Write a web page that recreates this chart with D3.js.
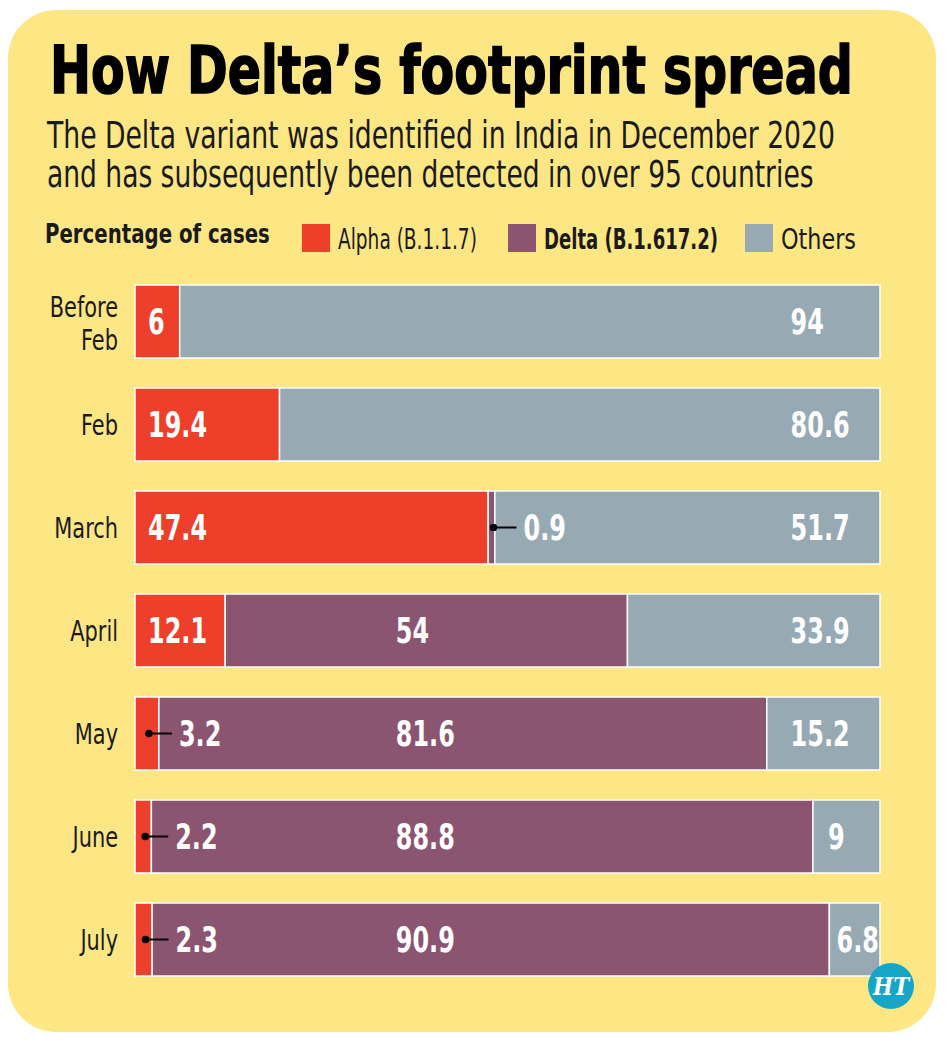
<!DOCTYPE html>
<html>

<head>
    <meta charset="utf-8">
    <style>
        body {
            margin: 0;
            background: #fff;
        }

        svg {
            display: block;
        }

        text {
            font-family: 'DejaVu Sans Condensed', 'DejaVu Sans', sans-serif;
            fill: #1a1a1a;
        }

        .val {
            fill: #fff;
            font-weight: bold;
            font-size: 35px;
        }

        .cat {
            font-size: 28px;
        }
    </style>
</head>

<body>
    <svg width="946" height="1043"></svg>

    <script src="https://d3js.org/d3.v7.min.js"></script>

    <script>
        // values (percentage of cases)
        let categories = ["Before Feb", "Feb", "March", "April", "May", "June", "July"];
        let alpha = [6, 19.4, 47.4, 12.1, 3.2, 2.2, 2.3];
        let delta = [0, 0, 0.9, 54, 81.6, 88.8, 90.9];
        let others = [94, 80.6, 51.7, 33.9, 15.2, 9, 6.8];

        let seriesNames = ["Alpha (B.1.1.7)", "Delta (B.1.617.2)", "Others"];
        let seriesKeys = ["alpha", "delta", "others"];
        let colors = ["#ee3f2a", "#8b5571", "#97aab4"];

        let rows = categories.map((c, i) => ({
            cat: c,
            alpha: alpha[i],
            delta: delta[i],
            others: others[i]
        }));

        let svg = d3.select("svg");

        // narrow a text horizontally (the original uses a condensed face)
        // k < 1 is a factor, k > 1 is a target width in px
        function squeeze(sel, k) {
            sel.each(function () {
                let t = d3.select(this);
                let w = this.getComputedTextLength();
                let f = k > 1 ? k / w : k;
                let px = +t.attr("x") || 0;
                let py = +t.attr("y") || 0;
                t.attr("x", 0).attr("y", 0)
                    .attr("transform", `translate(${px},${py}) scale(${f},1)`);
            });
            return sel;
        }

        // yellow card
        svg.append("rect")
            .attr("x", 8)
            .attr("y", 10)
            .attr("width", 928)
            .attr("height", 1022)
            .attr("rx", 48)
            .style("fill", "#fde784");

        // headline + subtitle
        svg.append("text")
            .attr("x", 50)
            .attr("y", 93)
            .style("font-size", "66px")
            .style("font-weight", "bold")
            .style("fill", "#000")
            .style("stroke", "#000")
            .style("stroke-width", 1.6)
            .text("How Delta’s footprint spread")
            .call(squeeze, 803);

        let sub = [
            ["The Delta variant was identified in India in December 2020", 148, 788],
            ["and has subsequently been detected in over 95 countries", 187, 767]
        ];
        svg.selectAll(".sub")
            .data(sub)
            .join("text")
            .attr("class", "sub")
            .attr("x", 47)
            .attr("y", d => d[1])
            .style("font-size", "37px")
            .text(d => d[0])
            .each(function (d) {
                d3.select(this).call(squeeze, d[2]);
            });

        // legend
        svg.append("text")
            .attr("x", 45)
            .attr("y", 243)
            .style("font-size", "26px")
            .style("font-weight", "bold")
            .text("Percentage of cases")
            .call(squeeze, 225);

        let legendX = [302, 508, 745];
        let legendLen = [139, 174, 75];
        let legend = svg.selectAll(".legend")
            .data(seriesNames)
            .join("g")
            .attr("class", "legend")
            .attr("transform", (d, i) => `translate(${legendX[i]},224)`);

        legend.append("rect")
            .attr("width", 28)
            .attr("height", 28)
            .style("fill", (d, i) => colors[i]);

        legend.append("text")
            .attr("x", 36)
            .attr("y", 25)
            .style("font-size", "28px")
            .style("font-weight", (d, i) => i == 1 ? "bold" : "normal")
            .text(d => d)
            .each(function (d, i) {
                d3.select(this).call(squeeze, legendLen[i]);
            });

        // scales
        let x = d3.scaleLinear()
            .domain([0, 100])
            .range([135, 880]);

        let y = d3.scaleBand()
            .domain(categories)
            .range([270, 991])
            .paddingInner(30 / 103)
            .paddingOuter(15 / 103);

        let stack = d3.stack().keys(seriesKeys)(rows);

        // bars
        let layers = svg.selectAll(".layer")
            .data(stack)
            .join("g")
            .attr("class", "layer")
            .style("fill", (d, i) => colors[i]);

        layers.selectAll("rect")
            .data(d => d.filter(s => s.data[d.key] > 0))
            .join("rect")
            .attr("x", d => x(d[0]))
            .attr("y", d => y(d.data.cat))
            .attr("width", d => x(d[1]) - x(d[0]))
            .attr("height", y.bandwidth())
            .style("stroke", "#fff")
            .style("stroke-width", 1.5);

        // category labels (one text per line)
        categories.forEach(c => {
            let words = c.split(" ");
            let cy = y(c) + y.bandwidth() / 2;
            words.forEach((w, i) => {
                svg.append("text")
                    .attr("class", "cat")
                    .attr("text-anchor", "end")
                    .attr("x", 118)
                    .attr("y", words.length > 1 ? cy - 4.5 + i * 33 : cy + 10)
                    .text(w)
                    .call(squeeze, 0.83);
            });
        });

        // value labels
        let labelG = svg.append("g");

        stack.forEach((layer, li) => {
            layer.forEach(s => {
                let v = s.data[layer.key];
                if (v <= 0) return;
                let x0 = x(s[0]);
                let x1 = x(s[1]);
                let cy = y(s.data.cat) + y.bandwidth() / 2;

                if (v < 5) {
                    // small share: dot + leader line
                    let dx = (x0 + x1) / 2 + 2;
                    labelG.append("line")
                        .attr("x1", dx)
                        .attr("x2", dx + 23)
                        .attr("y1", cy)
                        .attr("y2", cy)
                        .style("stroke", "#000")
                        .style("stroke-width", 2);
                    labelG.append("circle")
                        .attr("cx", dx)
                        .attr("cy", cy)
                        .attr("r", 3.8)
                        .style("fill", "#000");
                    labelG.append("text")
                        .attr("class", "val")
                        .attr("x", dx + 30)
                        .attr("y", cy + 12)
                        .text(v)
                        .call(squeeze, 0.76);
                    return;
                }

                let t = labelG.append("text")
                    .attr("class", "val")
                    .text(v);
                let w = t.node().getComputedTextLength() * 0.76;
                let lx = x0 + 13;
                if (li == 1) lx = Math.max(x(35), x0 + 13);
                if (li == 2) {
                    lx = Math.max(x(88), x0 + 15);
                    if (lx + w > x1 - 1) lx = x1 - w - 1;
                }
                t.attr("x", lx).attr("y", cy + 12).call(squeeze, 0.76);
            });
        });

        // HT badge
        let badge = svg.append("g")
            .attr("transform", "translate(891,986)");
        badge.append("circle")
            .attr("r", 23)
            .style("fill", "#14a5c7");
        badge.append("text")
            .attr("text-anchor", "middle")
            .attr("y", 9)
            .style("font-family", "'DejaVu Serif', serif")
            .style("font-weight", "bold")
            .style("font-style", "italic")
            .style("font-size", "25px")
            .style("fill", "#fff")
            .text("HT")
            .call(squeeze, 0.85);
    </script>
</body>

</html>
